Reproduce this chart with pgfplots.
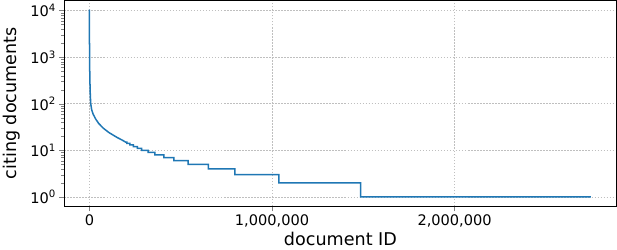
\documentclass[border=0pt]{standalone}
\usepackage{fontspec}
\setmainfont{DejaVu Sans}
\usepackage{pgfplots}
\pgfplotsset{compat=1.18}
\definecolor{mplblue}{HTML}{1F77B4}
\begin{document}
\begin{tikzpicture}
\begin{semilogyaxis}[
  scale only axis,
  width=550pt, height=205pt,
  xmin=-137500, xmax=2887500,
  ymin=0.63, ymax=16500,
  xtick={0,1000000,2000000},
  xticklabels={0,{1,000,000},{2,000,000}},
  scaled x ticks=false,
  ytick={1,10,100,1000,10000},
  yticklabels={10\textsuperscript{0},10\textsuperscript{1},10\textsuperscript{2},10\textsuperscript{3},10\textsuperscript{4}},
  tick align=outside,
  tick pos=left,
  major tick length=5pt,
  minor tick length=3pt,
  grid=major,
  major grid style={gray!50, dash pattern=on 1.5pt off 1.5pt, line width=0.5pt},
  ticklabel style={font=\fontsize{14.5}{16}\selectfont},
  xlabel={document ID},
  ylabel={citing documents},
  label style={font=\fontsize{17.5}{19}\selectfont},
  xlabel style={yshift=2pt},
  ylabel style={yshift=3pt},
  axis line style={line width=0.8pt},
]
\addplot[mplblue, line width=1.5pt] coordinates {
(0,10500) (100,4000) (300,2000) (600,1200) (1000,800) (2000,400) (4000,180)
(7000,100) (12000,75) (20000,60) (34000,47) (50000,38) (75000,30)
(107000,24) (150000,19) (180000,16.5) (198000,15)
(205000,15) (205000,14) (222000,14) (222000,13) (240000,13) (240000,12)
(262000,12) (262000,11) (286000,11) (286000,10)
(322000,10) (322000,9) (359000,9) (359000,8) (408000,8) (408000,7)
(463000,7) (463000,6) (541000,6) (541000,5) (651000,5) (651000,4)
(797000,4) (797000,3) (1038000,3) (1038000,2) (1486000,2) (1486000,1)
(2746000,1)
};
\end{semilogyaxis}
\end{tikzpicture}
\end{document}
